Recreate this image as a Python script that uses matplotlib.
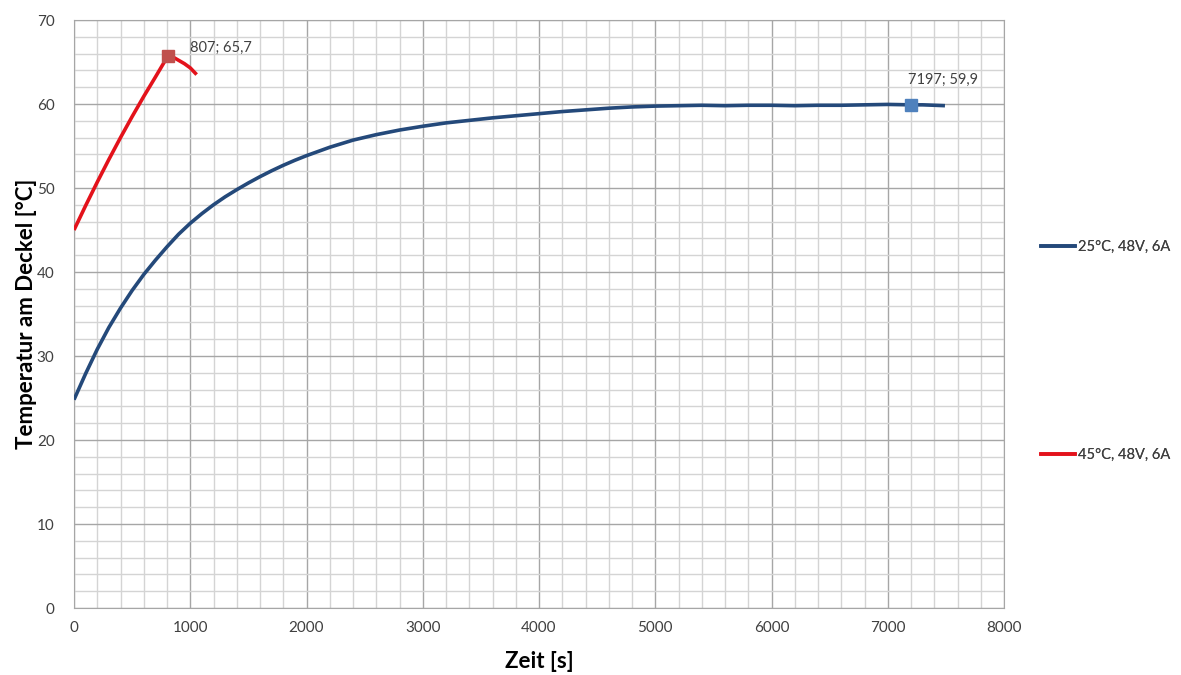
import matplotlib
matplotlib.use('Agg')
import matplotlib.pyplot as plt
from matplotlib.ticker import MultipleLocator
from matplotlib.lines import Line2D

# measured lid temperature, 25 degC ambient
t_25 = [0, 100, 200, 300, 400, 500, 600, 700, 800, 900, 1000, 1100, 1200,
        1300, 1400, 1500, 1600, 1700, 1800, 1900, 2000, 2200, 2400, 2600,
        2800, 3000, 3200, 3400, 3600, 3800, 4000, 4200, 4400, 4600, 4800,
        5000, 5200, 5400, 5600, 5800, 6000, 6200, 6400, 6600, 6800, 7000,
        7197, 7300, 7400, 7492]
temp_25 = [24.8, 27.9, 30.8, 33.4, 35.7, 37.8, 39.7, 41.4, 43.0, 44.5, 45.8,
           46.95, 48.0, 48.95, 49.8, 50.6, 51.35, 52.05, 52.7, 53.3, 53.85,
           54.85, 55.7, 56.35, 56.9, 57.35, 57.75, 58.05, 58.35, 58.6, 58.85,
           59.1, 59.3, 59.5, 59.65, 59.75, 59.8, 59.85, 59.8, 59.85, 59.85,
           59.8, 59.85, 59.85, 59.9, 59.95, 59.9, 59.9, 59.85, 59.8]

# measured lid temperature, 45 degC ambient
t_45 = [0, 100, 200, 300, 400, 500, 600, 700, 807, 850, 900, 950, 1000, 1055]
temp_45 = [45.0, 47.9, 50.7, 53.4, 56.0, 58.5, 60.9, 63.2, 65.7, 65.6, 65.2,
           64.8, 64.3, 63.5]

labels = ['25°C, 48V, 6A', '45°C, 48V, 6A']
peaks = [(7197, 59.9), (807, 65.7)]

BLUE = '#24497a'
RED = '#e3121b'
BLUE_MARK = '#4f81bd'
RED_MARK = '#c0504d'
TXT = '#404040'

plt.rcParams['font.family'] = ['Lato', 'DejaVu Sans']

fig = plt.figure(figsize=(11.81, 6.75), dpi=100)
ax = fig.add_axes([74 / 1181, 1 - 608 / 675, 930 / 1181, 588 / 675])

ax.plot(t_25, temp_25, color=BLUE, lw=2.6, solid_capstyle='butt', zorder=3)
ax.plot(t_45, temp_45, color=RED, lw=2.6, solid_capstyle='butt', zorder=3)

# marked points with labels
ax.plot(*peaks[0], marker='s', ms=8, color=BLUE_MARK, zorder=4)
ax.plot(*peaks[1], marker='s', ms=8, color=RED_MARK, zorder=4)
for (px, py), off in zip(peaks, [(-2, 13), (16, 1)]):
    txt = '{}; {}'.format(px, str(py).replace('.', ','))
    ax.annotate(txt, (px, py), xytext=off, textcoords='offset points',
                fontsize=10.5, color=TXT, ha='left', va='bottom')

ax.set_xlim(0, 8000)
ax.set_ylim(0, 70)
ax.xaxis.set_major_locator(MultipleLocator(1000))
ax.xaxis.set_minor_locator(MultipleLocator(200))
ax.yaxis.set_major_locator(MultipleLocator(10))
ax.yaxis.set_minor_locator(MultipleLocator(2))
ax.grid(which='major', color='#a6a6a6', lw=1.0)
ax.grid(which='minor', color='#d4d4d4', lw=1.0)
ax.set_axisbelow(True)
for s in ax.spines.values():
    s.set_color('#a6a6a6')
ax.tick_params(which='both', length=0, labelsize=11, labelcolor=TXT)
ax.tick_params(axis='x', pad=9)
ax.tick_params(axis='y', pad=14)

ax.set_xlabel('Zeit [s]', fontsize=16, fontweight='bold', labelpad=12)
ax.set_ylabel('Temperatur am Deckel [°C]', fontsize=16, fontweight='bold',
              labelpad=0)

# legend entries sit far apart on the right side
handles = [Line2D([], [], color=BLUE, lw=2.6), Line2D([], [], color=RED, lw=2.6)]
for h, lab, ypos in zip(handles, labels, [1 - 247 / 675, 1 - 455 / 675]):
    leg = fig.legend([h], [lab], loc='center left',
                     bbox_to_anchor=(1028 / 1181, ypos), frameon=False,
                     fontsize=10.5, handlelength=2.3, handletextpad=0.2,
                     labelcolor=TXT)
    fig.add_artist(leg)

fig.savefig('out.png', dpi=100)
